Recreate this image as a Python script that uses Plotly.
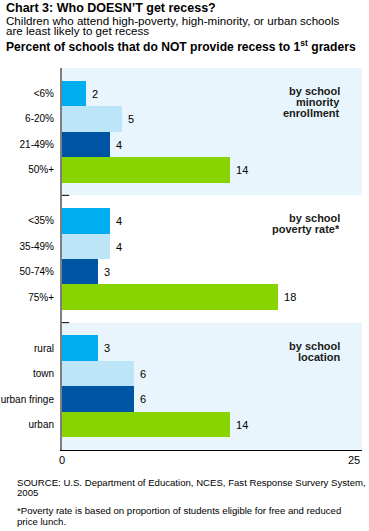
import plotly.graph_objects as go

# ---- data ----
groups = [["by school", "minority", "enrollment"], ["by school", "poverty rate*"], ["by school", "location"]]
minority_labels = ["<6%", "6-20%", "21-49%", "50%+"]
minority_values = [2, 5, 4, 14]
poverty_labels = ["<35%", "35-49%", "50-74%", "75%+"]
poverty_values = [4, 4, 3, 18]
location_labels = ["rural", "town", "urban fringe", "urban"]
location_values = [3, 6, 6, 14]
x_ticks = [0, 25]

group_data = [(minority_labels, minority_values),
              (poverty_labels, poverty_values),
              (location_labels, location_values)]

bar_colors = ["#00AEEF", "#BDE5F8", "#0054A4", "#88D400"]
band_color = "#E9F5FC"
FONT = "Arial, Liberation Sans, sans-serif"
SLOTS = 5  # per group: half pad + 4 bars + half pad

L, R, T, B = 62, 7, 68, 81
W, H = 369, 531
PW, PH = W - L - R, H - T - B

fig = go.Figure()
tickvals, ticktext = [], []
for g, (labels, values) in enumerate(group_data):
    ys = [g * SLOTS + 1 + i for i in range(len(labels))]
    tickvals += ys
    ticktext += labels
    fig.add_trace(go.Bar(
        x=values, y=ys, orientation="h", width=1,
        marker=dict(color=bar_colors, line=dict(width=0)),
        text=["\u00a0" + str(v) for v in values], textposition="outside",
        textfont=dict(family=FONT, size=11, color="#000000"),
        cliponaxis=False, showlegend=False, hoverinfo="skip",
    ))
    if g % 2 == 0:
        fig.add_shape(type="rect", xref="paper", yref="y",
                      x0=0, x1=1, y0=g * SLOTS, y1=(g + 1) * SLOTS,
                      fillcolor=band_color, line=dict(width=0), layer="below")
    for k, line in enumerate(groups[g]):
        fig.add_annotation(text="<b>" + line + "</b>", xref="x", yref="y",
                           x=23.3, y=g * SLOTS + 0.9, yshift=-11 * k,
                           xanchor="right", yanchor="middle",
                           showarrow=False,
                           font=dict(family=FONT, size=11, color="#1a1a1a"))
    if g > 0:
        fig.add_shape(type="line", xref="paper", yref="y",
                      x0=0, x1=0.024, y0=g * SLOTS, y1=g * SLOTS,
                      line=dict(color="#000000", width=1))

n_groups = len(group_data)
fig.update_layout(
    width=W, height=H,
    margin=dict(l=L, r=R, t=T, b=B, autoexpand=False),
    paper_bgcolor="white", plot_bgcolor="white",
    bargap=0,
    font=dict(family=FONT, size=11, color="#000000"),
    xaxis=dict(range=[0, 25], showticklabels=False,
               showgrid=False, zeroline=False, showline=True, linecolor="#000000",
               linewidth=1, ticks="", fixedrange=True, automargin=False),
    yaxis=dict(range=[n_groups * SLOTS, 0], tickvals=tickvals, ticktext=ticktext,
               showgrid=False, zeroline=False, showline=True, linecolor="#7F7F7F",
               linewidth=2, ticks="", ticklen=0, tickfont=dict(size=10),
               ticklabelstandoff=4, fixedrange=True, automargin=False),
)

# x tick labels (first centred, last right-aligned, as in the reference)
for j, t in enumerate(x_ticks):
    fig.add_annotation(text=str(t), xref="x", yref="paper", x=t, y=0, yshift=-10,
                       xanchor="center" if j == 0 else "right", yanchor="middle",
                       showarrow=False, font=dict(family=FONT, size=11, color="#000000"))

head = [
    ("<b>Chart 3: Who DOESN\u2019T get recess?</b>", 8.5, 12.5),
    ("Children who attend high-poverty, high-minority, or urban schools", 20, 11.6),
    ("are least likely to get recess", 31, 11.6),
    ("<b>Percent of schools that do NOT provide recess to 1<sup>st</sup> graders</b>", 46, 12.1),
]
for txt, yc, sz in head:
    fig.add_annotation(text=txt, xref="paper", yref="paper",
                       x=(4 - L) / PW, y=1 + (T - yc) / PH, xanchor="left", yanchor="middle",
                       showarrow=False, font=dict(family=FONT, size=sz, color="#000000"))

foot = [
    ("SOURCE: U.S. Department of Education, NCES, Fast Response Survery System,", 482),
    ("2005", 493),
    ("*Poverty rate is based on proportion of students eligible for free and reduced", 510),
    ("price lunch.", 521),
]
for txt, yc in foot:
    fig.add_annotation(text=txt, xref="paper", yref="paper",
                       x=(15 - L) / PW, y=-(yc - (T + PH)) / PH, xanchor="left", yanchor="middle",
                       showarrow=False, font=dict(family=FONT, size=9.6, color="#000000"))

fig.write_html("out.html", config={"displayModeBar": False},
               post_script="document.body.style.margin='0';document.body.style.overflow='hidden';")
